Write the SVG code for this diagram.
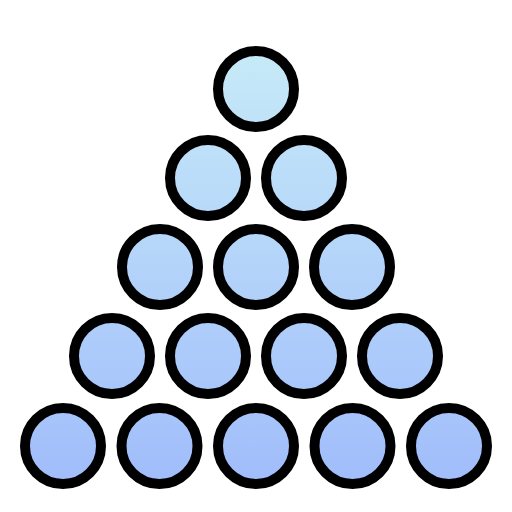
<svg xmlns="http://www.w3.org/2000/svg" width="512" height="512" viewBox="0 0 512 512">
<defs>
<linearGradient id="g" gradientUnits="userSpaceOnUse" x1="0" y1="50" x2="0" y2="490">
<stop offset="0" stop-color="#c7eaf8"/>
<stop offset="1" stop-color="#a0bcfb"/>
</linearGradient>
</defs>
<style>
.b{fill:url(#g);stroke:#000;stroke-width:10}
</style>
<rect width="512" height="512" fill="#fff"/>
<g id="row1"><circle class="b" cx="256" cy="89" r="38"/></g>
<g id="row2"><circle class="b" cx="208" cy="178" r="38"/><circle class="b" cx="304" cy="178" r="38"/></g>
<g id="row3"><circle class="b" cx="160" cy="267" r="38"/><circle class="b" cx="256" cy="267" r="38"/><circle class="b" cx="352" cy="267" r="38"/></g>
<g id="row4"><circle class="b" cx="112" cy="356" r="38"/><circle class="b" cx="208" cy="356" r="38"/><circle class="b" cx="304" cy="356" r="38"/><circle class="b" cx="400" cy="356" r="38"/></g>
<g id="row5"><circle class="b" cx="63" cy="446" r="38"/><circle class="b" cx="159.5" cy="446" r="38"/><circle class="b" cx="256" cy="446" r="38"/><circle class="b" cx="352.5" cy="446" r="38"/><circle class="b" cx="449" cy="446" r="38"/></g>
</svg>
